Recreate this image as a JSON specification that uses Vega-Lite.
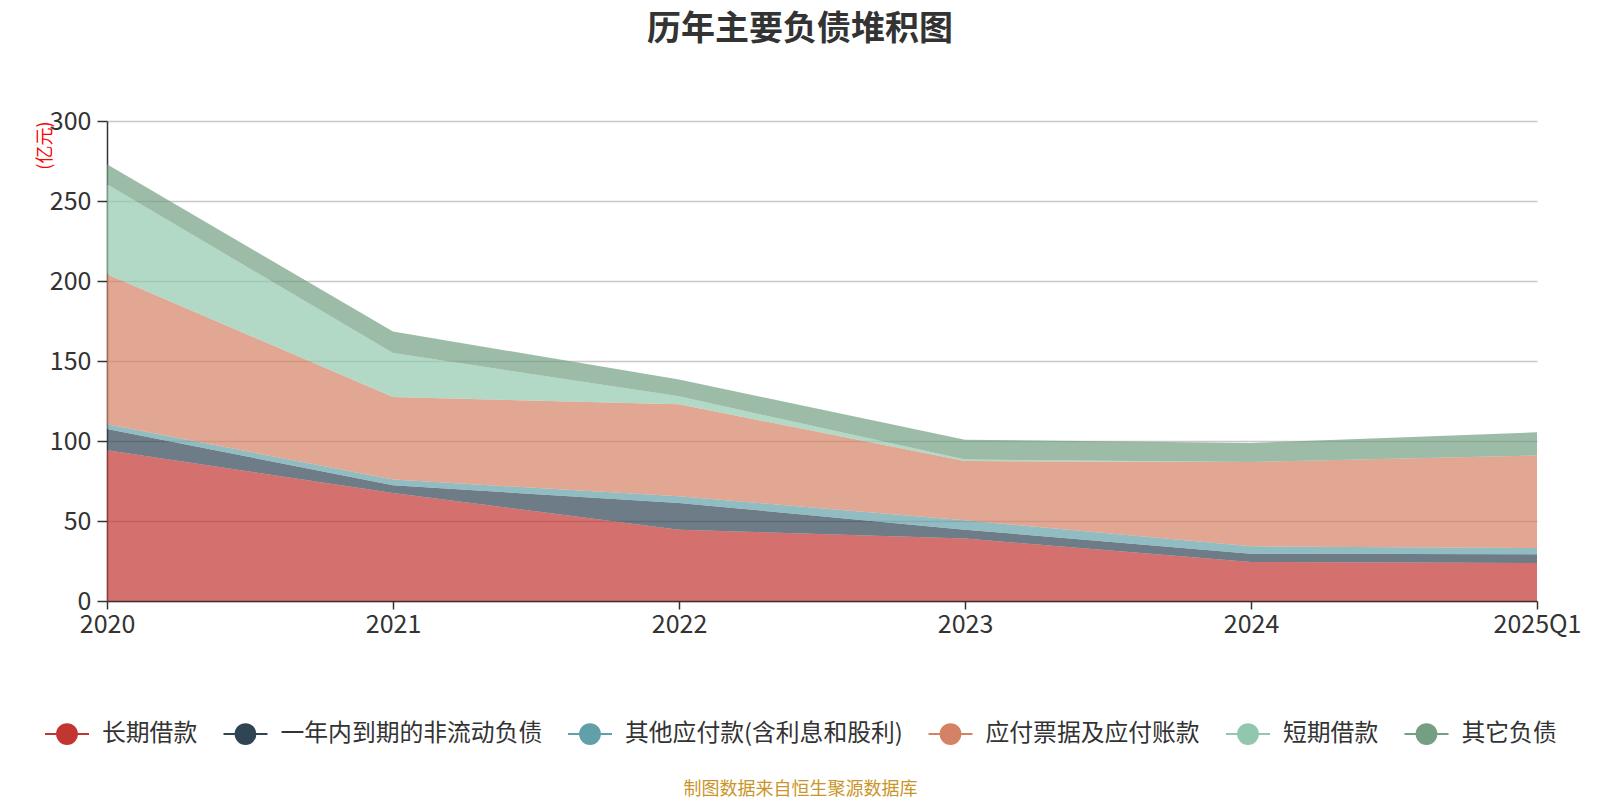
{
  "$schema": "https://vega.github.io/schema/vega-lite/v6.json",
  "autosize": {"type": "none"},
  "width": 1430,
  "height": 480,
  "padding": {"left": 107, "top": 121, "right": 63, "bottom": 199},
  "background": "white",
  "title": {
    "text": "历年主要负债堆积图",
    "fontSize": 34,
    "fontWeight": "bold",
    "color": "#333333",
    "font": "Noto Sans CJK SC",
    "anchor": "middle",
    "dx": -22,
    "offset": 62
  },
  "data": {
    "values": [
      {"year": "2020", "item": "长期借款", "rank": 1, "value": 94.2},
      {"year": "2021", "item": "长期借款", "rank": 1, "value": 67.5},
      {"year": "2022", "item": "长期借款", "rank": 1, "value": 44.6},
      {"year": "2023", "item": "长期借款", "rank": 1, "value": 39.0},
      {"year": "2024", "item": "长期借款", "rank": 1, "value": 24.4},
      {"year": "2025Q1", "item": "长期借款", "rank": 1, "value": 23.8},
      {"year": "2020", "item": "一年内到期的非流动负债", "rank": 2, "value": 13.3},
      {"year": "2021", "item": "一年内到期的非流动负债", "rank": 2, "value": 4.8},
      {"year": "2022", "item": "一年内到期的非流动负债", "rank": 2, "value": 16.7},
      {"year": "2023", "item": "一年内到期的非流动负债", "rank": 2, "value": 5.6},
      {"year": "2024", "item": "一年内到期的非流动负债", "rank": 2, "value": 5.2},
      {"year": "2025Q1", "item": "一年内到期的非流动负债", "rank": 2, "value": 5.4},
      {"year": "2020", "item": "其他应付款(含利息和股利)", "rank": 3, "value": 2.9},
      {"year": "2021", "item": "其他应付款(含利息和股利)", "rank": 3, "value": 3.6},
      {"year": "2022", "item": "其他应付款(含利息和股利)", "rank": 3, "value": 4.1},
      {"year": "2023", "item": "其他应付款(含利息和股利)", "rank": 3, "value": 5.8},
      {"year": "2024", "item": "其他应付款(含利息和股利)", "rank": 3, "value": 4.6},
      {"year": "2025Q1", "item": "其他应付款(含利息和股利)", "rank": 3, "value": 3.9},
      {"year": "2020", "item": "应付票据及应付账款", "rank": 4, "value": 93.8},
      {"year": "2021", "item": "应付票据及应付账款", "rank": 4, "value": 51.6},
      {"year": "2022", "item": "应付票据及应付账款", "rank": 4, "value": 57.5},
      {"year": "2023", "item": "应付票据及应付账款", "rank": 4, "value": 37.1},
      {"year": "2024", "item": "应付票据及应付账款", "rank": 4, "value": 52.7},
      {"year": "2025Q1", "item": "应付票据及应付账款", "rank": 4, "value": 57.8},
      {"year": "2020", "item": "短期借款", "rank": 5, "value": 56.2},
      {"year": "2021", "item": "短期借款", "rank": 5, "value": 27.5},
      {"year": "2022", "item": "短期借款", "rank": 5, "value": 5.0},
      {"year": "2023", "item": "短期借款", "rank": 5, "value": 0.9},
      {"year": "2024", "item": "短期借款", "rank": 5, "value": 0},
      {"year": "2025Q1", "item": "短期借款", "rank": 5, "value": 0},
      {"year": "2020", "item": "其它负债", "rank": 6, "value": 12.5},
      {"year": "2021", "item": "其它负债", "rank": 6, "value": 13.4},
      {"year": "2022", "item": "其它负债", "rank": 6, "value": 10.5},
      {"year": "2023", "item": "其它负债", "rank": 6, "value": 12.4},
      {"year": "2024", "item": "其它负债", "rank": 6, "value": 11.9},
      {"year": "2025Q1", "item": "其它负债", "rank": 6, "value": 14.5}
    ]
  },
  "mark": {"type": "area", "opacity": 0.7, "interpolate": "linear"},
  "encoding": {
    "x": {
      "field": "year",
      "type": "ordinal",
      "sort": null,
      "scale": {"type": "point", "padding": 0},
      "axis": {
        "title": "制图数据来自恒生聚源数据库",
        "titleFontSize": 18,
        "titleFontWeight": "normal",
        "titleColor": "#c9952a",
        "titleX": 693,
        "titleY": 188,
        "titleAlign": "center",
        "titleBaseline": "middle",
        "labelAngle": 0,
        "labelFontSize": 25,
        "labelColor": "#333333",
        "labelPadding": 3,
        "tickSize": 8,
        "tickColor": "#333333",
        "tickWidth": 1.5,
        "domainColor": "#333333",
        "domainWidth": 1.5,
        "grid": false
      }
    },
    "y": {
      "field": "value",
      "type": "quantitative",
      "stack": "zero",
      "scale": {"domain": [0, 300], "nice": false},
      "axis": {
        "title": "(亿元)",
        "titleFontSize": 18,
        "titleFontWeight": "normal",
        "titleColor": "#ff0000",
        "titleAngle": -90,
        "titleX": -62,
        "titleY": 0,
        "titleAlign": "right",
        "titleBaseline": "middle",
        "values": [0, 50, 100, 150, 200, 250, 300],
        "labelFontSize": 25,
        "labelColor": "#333333",
        "labelPadding": 6,
        "tickSize": 10,
        "tickColor": "#333333",
        "tickWidth": 1.5,
        "domainColor": "#333333",
        "domainWidth": 1.5,
        "gridColor": "#c8c8c8",
        "gridWidth": 1.5
      }
    },
    "color": {
      "field": "item",
      "type": "nominal",
      "sort": ["长期借款", "一年内到期的非流动负债", "其他应付款(含利息和股利)", "应付票据及应付账款", "短期借款", "其它负债"],
      "scale": {
        "domain": ["长期借款", "一年内到期的非流动负债", "其他应付款(含利息和股利)", "应付票据及应付账款", "短期借款", "其它负债"],
        "range": ["#c23531", "#2f4554", "#61a0a8", "#d48265", "#91c7ae", "#749f83"]
      },
      "legend": {
        "title": null,
        "orient": "none",
        "direction": "horizontal",
        "columns": 6,
        "legendX": -63,
        "legendY": 590,
        "symbolType": "M-1,0L1,0M-0.45,0A0.45,0.45,0,1,1,0.45,0A0.45,0.45,0,1,1,-0.45,0Z",
        "symbolSize": 1936,
        "symbolStrokeWidth": 2,
        "symbolOpacity": 1,
        "labelFontSize": 23.8,
        "labelLimit": 0,
        "labelColor": "#333333",
        "labelOffset": 12,
        "columnPadding": 21.5,
        "padding": 0,
        "encode": {
          "symbols": {
            "update": {
              "stroke": {"scale": "color", "field": "value"},
              "fill": {"scale": "color", "field": "value"},
              "opacity": {"value": 1}
            }
          }
        }
      }
    },
    "order": {"field": "rank", "type": "quantitative", "sort": "ascending"}
  },
  "config": {
    "font": "Noto Sans CJK SC",
    "view": {"stroke": null}
  }
}
